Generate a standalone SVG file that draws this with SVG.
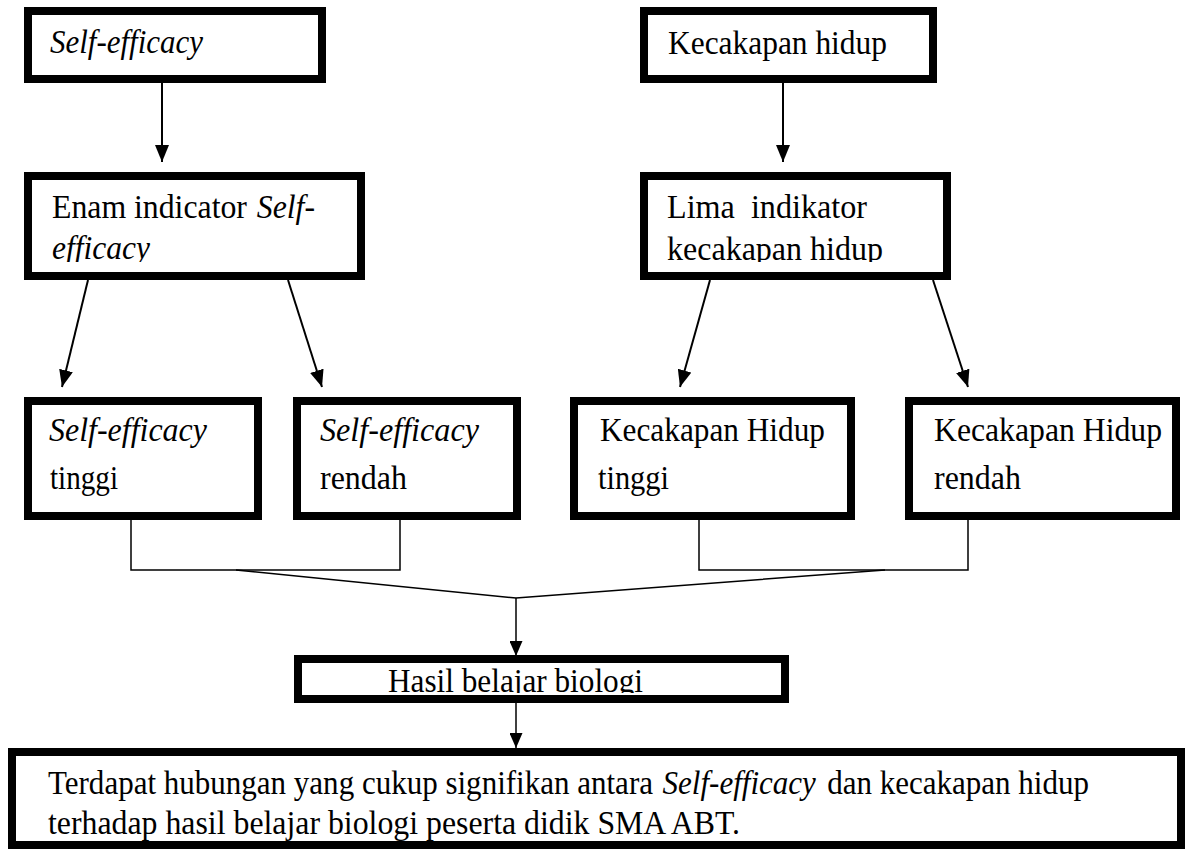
<svg xmlns="http://www.w3.org/2000/svg" width="1193" height="867" viewBox="0 0 1193 867">
<style>
.box{fill:#fff;stroke:#000;stroke-width:8}
.t{font-family:"Liberation Serif","Times New Roman",serif;fill:#000;white-space:pre}
.i{font-style:italic}
.top{font-size:33px}
.low{font-size:34px}
.ln{fill:none;stroke:#000;stroke-width:2}
.thin{fill:none;stroke:#000;stroke-width:1.5}
</style>
<defs>
<marker id="ah" markerUnits="userSpaceOnUse" viewBox="0 0 17 14" refX="17" refY="7" markerWidth="17" markerHeight="14" orient="auto">
<path d="M0,0 L17,7 L0,14 z" fill="#000"/>
</marker>
<marker id="ahs" markerUnits="userSpaceOnUse" viewBox="0 0 15 13" refX="15" refY="6.5" markerWidth="15" markerHeight="13" orient="auto">
<path d="M0,0 L15,6.5 L0,13 z" fill="#000"/>
</marker>
<clipPath id="c3"><rect x="0" y="176" width="400" height="86"/></clipPath>
<clipPath id="c4"><rect x="600" y="176" width="400" height="86"/></clipPath>
<clipPath id="ch"><rect x="300" y="660" width="480" height="33"/></clipPath>
</defs>

<g id="connectors">
<line class="ln" x1="162" y1="83" x2="162" y2="162" marker-end="url(#ah)"/>
<line class="ln" x1="783" y1="83" x2="783" y2="162" marker-end="url(#ah)"/>
<line class="ln" x1="88" y1="280" x2="62" y2="387" marker-end="url(#ah)"/>
<line class="ln" x1="288" y1="280" x2="322" y2="387" marker-end="url(#ah)"/>
<line class="ln" x1="710" y1="280" x2="680" y2="387" marker-end="url(#ah)"/>
<line class="ln" x1="933" y1="280" x2="968" y2="387" marker-end="url(#ah)"/>
<path class="thin" d="M131,520 V570 H400 V520"/>
<path class="thin" d="M699,520 V570 H968 V520"/>
<path class="thin" d="M236,570 L516,598 L885,570"/>
<line class="thin" x1="516" y1="598" x2="516" y2="656" marker-end="url(#ahs)"/>
<line class="thin" x1="516" y1="703" x2="516" y2="748" marker-end="url(#ahs)"/>
</g>

<g id="self-efficacy">
<rect class="box" x="28" y="11" width="294" height="68"/>
<text class="t top i" x="50" y="53" textLength="153" lengthAdjust="spacingAndGlyphs">Self-efficacy</text>
</g>

<g id="kecakapan-hidup">
<rect class="box" x="644" y="11" width="289" height="68"/>
<text class="t top" x="668" y="54" textLength="219" lengthAdjust="spacingAndGlyphs">Kecakapan hidup</text>
</g>

<g id="enam-indicator">
<rect class="box" x="28" y="176" width="333" height="100"/>
<g clip-path="url(#c3)">
<text class="t top" x="52" y="218" textLength="263" lengthAdjust="spacingAndGlyphs">Enam indicator <tspan class="i" dx="2">Self-</tspan></text>
<text class="t top i" x="52" y="259" textLength="98" lengthAdjust="spacingAndGlyphs">efficacy</text>
</g>
</g>

<g id="lima-indikator">
<rect class="box" x="644" y="176" width="303" height="100"/>
<g clip-path="url(#c4)">
<text class="t top" x="667" y="218" textLength="200" lengthAdjust="spacingAndGlyphs">Lima  indikator</text>
<text class="t top" x="667" y="260" textLength="216" lengthAdjust="spacingAndGlyphs">kecakapan hidup</text>
</g>
</g>

<g id="se-tinggi">
<rect class="box" x="28" y="401" width="230" height="115"/>
<text class="t low i" x="49" y="441" textLength="158" lengthAdjust="spacingAndGlyphs">Self-efficacy</text>
<text class="t low" x="50" y="489" textLength="68" lengthAdjust="spacingAndGlyphs">tinggi</text>
</g>

<g id="se-rendah">
<rect class="box" x="297" y="401" width="220" height="115"/>
<text class="t low i" x="320" y="441" textLength="159" lengthAdjust="spacingAndGlyphs">Self-efficacy</text>
<text class="t low" x="320" y="489" textLength="87" lengthAdjust="spacingAndGlyphs">rendah</text>
</g>

<g id="kh-tinggi">
<rect class="box" x="574" y="401" width="277" height="115"/>
<text class="t low" x="600" y="441" textLength="225" lengthAdjust="spacingAndGlyphs">Kecakapan Hidup</text>
<text class="t low" x="598" y="489" textLength="71" lengthAdjust="spacingAndGlyphs">tinggi</text>
</g>

<g id="kh-rendah">
<rect class="box" x="909" y="401" width="267" height="115"/>
<text class="t low" x="934" y="441" textLength="228" lengthAdjust="spacingAndGlyphs">Kecakapan Hidup</text>
<text class="t low" x="934" y="489" textLength="87" lengthAdjust="spacingAndGlyphs">rendah</text>
</g>

<g id="hasil-belajar">
<rect class="box" x="298" y="659" width="487" height="40"/>
<g clip-path="url(#ch)">
<text class="t low" x="388" y="692" textLength="255" lengthAdjust="spacingAndGlyphs">Hasil belajar biologi</text>
</g>
</g>

<g id="kesimpulan">
<rect class="box" x="12" y="752" width="1169" height="93"/>
<text class="t low" x="48" y="794" textLength="1041" lengthAdjust="spacingAndGlyphs">Terdapat hubungan yang cukup signifikan antara <tspan class="i" dx="2">Self-efficacy</tspan><tspan dx="4"> dan kecakapan hidup</tspan></text>
<text class="t low" x="48" y="834" textLength="692" lengthAdjust="spacingAndGlyphs">terhadap hasil belajar biologi peserta didik SMA ABT.</text>
</g>
</svg>
